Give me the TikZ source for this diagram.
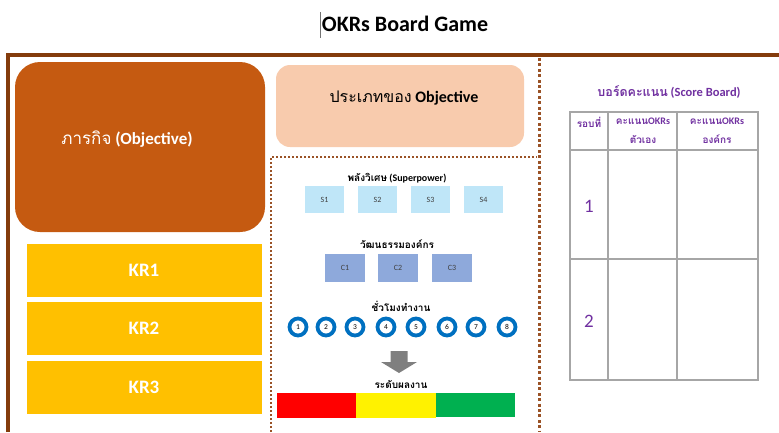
\documentclass[tikz,border=0pt]{standalone}
\usepackage{fontspec}
\setmainfont{Carlito}
\newfontfamily\thaifont[Script=Thai]{Loma}
\definecolor{framebrown}{HTML}{843C0C}
\definecolor{dotbrown}{HTML}{9A5226}
\definecolor{objorange}{HTML}{C55A11}
\definecolor{typepeach}{HTML}{F8CBAD}
\definecolor{krgold}{HTML}{FFC000}
\definecolor{powerblue}{HTML}{BFE6F8}
\definecolor{cultureblue}{HTML}{8EA9DB}
\definecolor{hourblue}{HTML}{0070C0}
\definecolor{arrowgray}{HTML}{7F7F7F}
\definecolor{levelgreen}{HTML}{00B050}
\definecolor{boardpurple}{HTML}{7030A0}
\definecolor{gridgray}{HTML}{A6A6A6}

\tikzset{
	objbox/.style={fill=objorange, rounded corners=25pt, minimum width=250pt, minimum height=170pt},
	typebox/.style={fill=typepeach, rounded corners=14pt, minimum width=248pt, minimum height=82pt},
	krbox/.style={fill=krgold, draw=white, line width=1pt, minimum width=236pt, minimum height=54pt, text=white, font=\fontsize{19}{22}\selectfont\bfseries},
	powerbox/.style={fill=powerblue, minimum width=39pt, minimum height=27pt, text=black!75, font=\fontsize{8}{9}\selectfont},
	culturebox/.style={fill=cultureblue, minimum width=40pt, minimum height=28pt, text=black!75, font=\fontsize{8}{9}\selectfont},
	hourdot/.style={circle, draw=hourblue, line width=3.8pt, fill=white, minimum size=17pt, inner sep=0pt, font=\fontsize{7.5}{8}\selectfont},
	smalllabel/.style={font=\fontsize{10}{12}\selectfont\bfseries},
	boardtext/.style={text=boardpurple, font=\fontsize{10}{19}\selectfont\bfseries},
	dotline/.style={draw=dotbrown, line width=3pt, dash pattern=on 3pt off 2.4pt},
}

\begin{document}
\begin{tikzpicture}[x=1pt, y=-1pt]
	\useasboundingbox (0,0) rectangle (779,432);

	% title
	\node[font=\fontsize{22}{26}\selectfont\bfseries] (title) at (405,24) {OKRs Board Game};
	\draw[black!55, line width=0.6pt] (320,12) -- (320,38);

	% board frame
	\draw[framebrown, line width=4pt] (8,432) -- (8,55) -- (779,55);
	\draw[dotline] (539,58) -- (539,432);
	\draw[dotline, line width=2.2pt, dash pattern=on 2.2pt off 1.8pt] (271,432) -- (271,157) -- (537,157);

	% left column
	\node[objbox] (objective) at (140,147) {};
	\node[text=white, font=\fontsize{17}{20}\selectfont] (objtext) at (127,139) {{\thaifont ภารกิจ} \textbf{(Objective)}};
	\node[krbox] (kr1) at (144,270) {KR1};
	\node[krbox] (kr2) at (144,328) {KR2};
	\node[krbox] (kr3) at (144,387) {KR3};

	% middle column
	\node[typebox] (objtype) at (400,106) {};
	\node[font=\fontsize{16}{19}\selectfont] (objtypetext) at (404,98) {{\thaifont ประเภทของ} \textbf{Objective}};

	\node[smalllabel] (powerlabel) at (397,178) {{\thaifont พลังวิเศษ} (Superpower)};
	\node[powerbox] (s1) at (324.5,199.5) {S1};
	\node[powerbox] (s2) at (377.5,199.5) {S2};
	\node[powerbox] (s3) at (430.5,199.5) {S3};
	\node[powerbox] (s4) at (483.5,199.5) {S4};

	\node[smalllabel] (culturelabel) at (397,244) {\thaifont วัฒนธรรมองค์กร};
	\node[culturebox] (c1) at (345,268) {C1};
	\node[culturebox] (c2) at (398,268) {C2};
	\node[culturebox] (c3) at (452,268) {C3};

	\node[smalllabel] (hourlabel) at (401,306) {\thaifont ชั่วโมงทำงาน};
	\foreach \n/\xx in {1/298,2/326,3/355,4/386,5/416,6/447,7/476,8/507}
		\node[hourdot] (h\n) at (\xx,327) {\n};

	\fill[arrowgray] (390.5,351) -- (407.5,351) -- (407.5,362) -- (417,362) -- (399,373) -- (381,362) -- (390.5,362) -- cycle;

	\node[smalllabel] (levellabel) at (401,384) {\thaifont ระดับผลงาน};
	\fill[red] (277,393) rectangle (356,418);
	\fill[yellow] (356,393) rectangle (436,418);
	\fill[levelgreen] (436,393) rectangle (515,417);

	% score board
	\node[boardtext, font=\fontsize{12.5}{15}\selectfont\bfseries] (boardtitle) at (669,92) {{\thaifont บอร์ดคะแนน} (Score Board)};
	\draw[gridgray, line width=1.3pt] (570,112) rectangle (758,380);
	\draw[gridgray, line width=1.3pt] (570,150) -- (758,150) (570,259) -- (758,259)
		(608,112) -- (608,380) (677,112) -- (677,380);
	\node[boardtext, anchor=north] (roundhead) at (589,114) {\thaifont รอบที่};
	\node[boardtext, anchor=north, align=center] (selfhead) at (643,114) {{\thaifont คะแนน}OKRs\\{\thaifont ตัวเอง}};
	\node[boardtext, anchor=north, align=center] (orghead) at (717,114) {{\thaifont คะแนน}OKRs\\{\thaifont องค์กร}};
	\node[text=boardpurple, font=\fontsize{19}{22}\selectfont] (round1) at (589,206) {1};
	\node[text=boardpurple, font=\fontsize{19}{22}\selectfont] (round2) at (589,321) {2};
\end{tikzpicture}
\end{document}
